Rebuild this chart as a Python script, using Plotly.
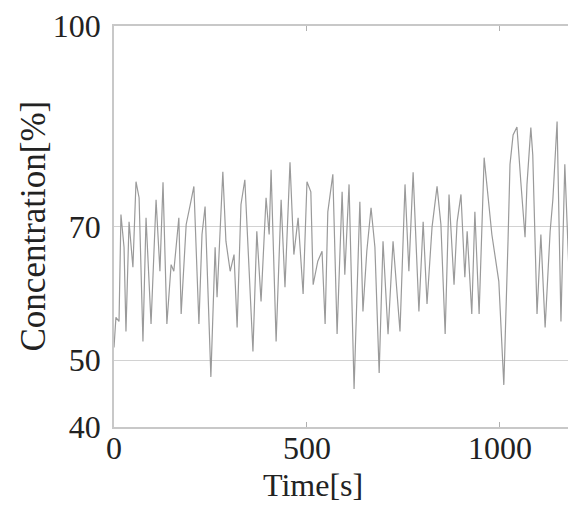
import plotly.graph_objects as go

time_s = [0, 5, 13, 18, 26, 31, 39, 49, 57, 65, 75, 83, 96, 109, 119, 127, 137, 148, 155, 168,
          174, 187, 199, 207, 220, 228, 236, 251, 262, 267, 282, 290, 301, 311, 319, 329, 339, 345, 357, 360,
          370, 381, 394, 402, 407, 420, 433, 443, 456, 466, 477, 490, 500, 510, 516, 528, 539, 547, 554, 567,
          578, 591, 598, 609, 622, 637, 645, 655, 666, 676, 687, 697, 710, 723, 741, 754, 764, 775, 790, 801,
          811, 824, 837, 847, 858, 868, 881, 889, 899, 909, 915, 927, 935, 946, 959, 966, 979, 997, 1010, 1021,
          1026, 1034, 1044, 1054, 1065, 1070, 1080, 1085, 1096, 1106, 1117, 1130, 1137, 1148, 1158, 1168, 1181, 1192, 1202]
concentration = [51.9, 56.4, 55.8, 71.8, 66.9, 54.3, 70.7, 63.9, 76.7, 74.3, 52.8, 71.3, 55.4, 74.0, 63.3, 76.6, 55.4, 64.3, 63.3, 71.3,
                 56.9, 70.3, 73.7, 76.0, 55.4, 68.8, 73.0, 47.5, 66.9, 59.4, 78.2, 67.8, 63.3, 65.8, 54.9, 73.3, 77.0, 69.9, 56.9, 51.3,
                 69.3, 58.8, 74.3, 68.8, 78.5, 52.8, 74.0, 60.9, 79.6, 65.8, 71.3, 59.9, 76.7, 75.2, 61.3, 64.8, 66.3, 55.4, 72.2, 77.8,
                 53.9, 75.2, 62.8, 76.3, 45.7, 73.7, 57.3, 66.3, 72.8, 66.9, 48.1, 67.8, 53.9, 67.8, 54.3, 76.3, 63.3, 78.1, 57.3, 70.7,
                 58.4, 69.9, 76.0, 70.3, 53.9, 74.8, 61.3, 70.7, 74.8, 62.4, 69.3, 56.9, 72.2, 56.9, 80.3, 76.0, 68.8, 61.8, 46.3, 68.1,
                 79.3, 83.7, 84.9, 76.7, 68.4, 76.3, 84.8, 80.7, 56.9, 68.8, 54.9, 69.3, 74.0, 85.7, 55.8, 79.3, 59.9, 75.2, 65.0]

x_ticks = [0, 500, 1000]
y_ticks = [40, 50, 70, 100]
x_title = "Time[s]"
y_title = "Concentration[%]"

fig = go.Figure()
fig.add_trace(go.Scatter(x=time_s, y=concentration, mode="lines",
                         line=dict(color="#9a9a9a", width=1.2), showlegend=False))

font_family = "Liberation Serif"
fig.update_layout(
    width=568, height=499,
    margin=dict(l=106, r=0, t=18, b=80, pad=0),
    paper_bgcolor="white", plot_bgcolor="white",
    font=dict(family=font_family, color="#222222", size=32),
)
fig.update_xaxes(
    range=[0, 1197], tickvals=x_ticks, ticktext=[str(v) for v in x_ticks],
    showgrid=False, zeroline=False, automargin=False,
    showline=True, linecolor="#c8c8c8", linewidth=1.5, mirror="allticks",
    ticks="inside", ticklen=5, tickcolor="#b0b0b0", tickwidth=1,
    tickfont=dict(family=font_family, size=32), ticklabelstandoff=-8,
)
fig.update_yaxes(
    range=[40, 100], tickvals=y_ticks, ticktext=[str(v) for v in y_ticks],
    showgrid=True, gridcolor="#d2d2d2", gridwidth=1, zeroline=False, automargin=False,
    showline=True, linecolor="#c8c8c8", linewidth=1.5, mirror=False,
    ticks="", tickfont=dict(family=font_family, size=32), ticklabelstandoff=5,
)
fig.add_annotation(text=x_title, xref="x", yref="paper", x=515, y=0,
                   xanchor="center", yanchor="middle", yshift=-58, showarrow=False,
                   font=dict(family=font_family, size=32, color="#222222"))
fig.add_annotation(text=y_title, xref="paper", yref="paper", x=0, y=0.5,
                   xanchor="center", yanchor="middle", xshift=-81, textangle=-90, showarrow=False,
                   font=dict(family=font_family, size=35, color="#222222"))
fig.write_html("out.html")
